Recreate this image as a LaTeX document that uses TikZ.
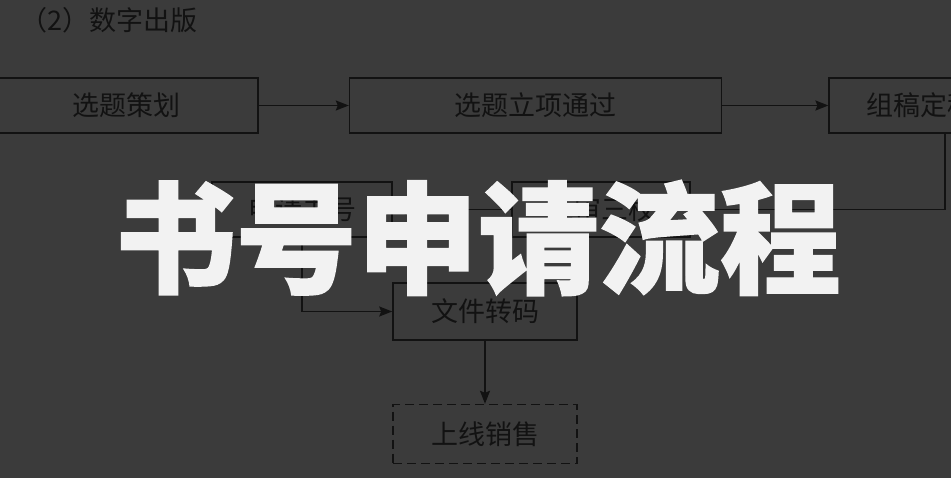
\documentclass[tikz,border=0pt]{standalone}
\usepackage{fontspec}
\newfontfamily\cjk{Noto Sans CJK SC}
\newfontfamily\cjkheavy{Noto Sans CJK SC}[BoldFeatures={FakeBold=1.2}]
\usetikzlibrary{positioning,arrows.meta}
\definecolor{bgdark}{HTML}{3B3B3B}
\definecolor{inkdark}{HTML}{121212}
\definecolor{titlewhite}{HTML}{F2F2F2}

\begin{document}
\begin{tikzpicture}[x=1pt, y=-1pt, node distance=90pt]
    \tikzstyle{stage} = [rectangle, draw=inkdark, line width=1.6pt, text=inkdark, minimum height=55pt, inner sep=0pt, text centered, font=\cjk\fontsize{27pt}{27pt}\selectfont]
    \tikzstyle{arrow} = [line width=1.6pt, draw=inkdark, -{Stealth[length=13pt, width=10pt, inset=2pt]}]

    \fill[bgdark] (0,0) rectangle (951,478);
    \useasboundingbox (0,0) rectangle (951,478);

    \node [anchor=west, inner sep=0pt, text=inkdark, font=\cjk\fontsize{27pt}{27pt}\selectfont] (heading) at (20,20) {（2）数字出版};

    \node [stage, minimum width=263pt] (xuanti) at (126.5,105.5) {选题策划};
    \node [stage, minimum width=372pt, right=90pt of xuanti] (lixiang) {选题立项通过};
    \node [stage, minimum width=182pt, right=106pt of lixiang] (zugao) {组稿定稿};

    \node [stage, minimum width=180pt] (shuhao) at (302,209.5) {申请书号};
    \node [stage, minimum width=178pt] (shenhe) at (601,209.5) {三审三校};

    \node [stage, minimum width=184pt, minimum height=57pt] (wenjian) at (485,311.5) {文件转码};
    \node [stage, minimum width=184pt, minimum height=59pt, dash pattern=on 9pt off 5pt, below=63pt of wenjian] (shangxian) {上线销售};

    \draw [arrow] (xuanti) -- (lixiang);
    \draw [arrow] (lixiang) -- (zugao);
    \draw [arrow] ([xshift=25pt]zugao.south) |- (shenhe.east);
    \draw [arrow] (shenhe) -- (shuhao);
    \draw [arrow] (shuhao.south) |- (wenjian.west);
    \draw [arrow] (wenjian) -- (shangxian);

    % overlay title
    \node [text=titlewhite, inner sep=0pt, font=\cjkheavy\bfseries\fontsize{121pt}{121pt}\selectfont] (banner) at (478,238) {书号申请流程};
\end{tikzpicture}
\end{document}
